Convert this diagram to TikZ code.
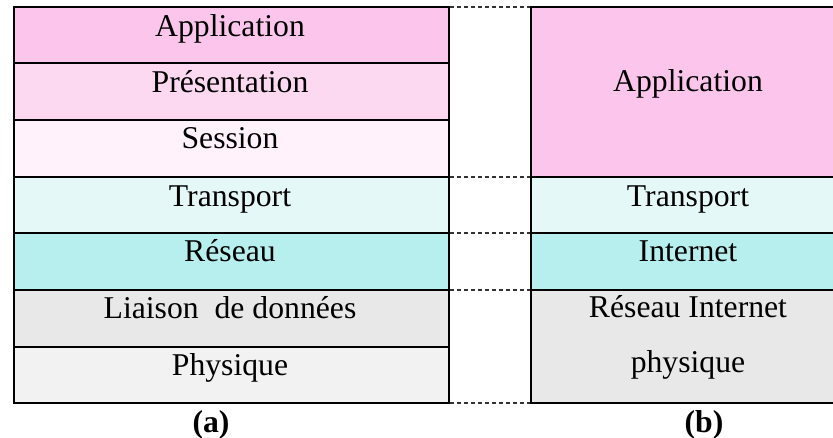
\documentclass[tikz,border=0pt]{standalone}
\usepackage{fontspec}
\setmainfont{Liberation Serif}
\definecolor{cApp}{HTML}{FCC5EC}
\definecolor{cPres}{HTML}{FDD8F1}
\definecolor{cSess}{HTML}{FFF2FA}
\definecolor{cTrans}{HTML}{E4F8F7}
\definecolor{cRes}{HTML}{B7EEEE}
\definecolor{cLiai}{HTML}{E8E8E8}
\definecolor{cPhys}{HTML}{F2F2F2}
\begin{document}
\begin{tikzpicture}[x=1pt,y=-1pt,
  lbl/.style={anchor=base, font=\fontsize{31.7}{38}\selectfont, inner sep=0pt},
  captext/.style={anchor=base, font=\fontsize{31.7}{38}\selectfont\bfseries, inner sep=0pt},
  border/.style={line width=2.2pt, draw=black},
  sepline/.style={dash pattern=on 4pt off 3pt, line width=1.8pt, draw=black!80}]
\useasboundingbox (0,0) rectangle (833,438);
\clip (0,0) rectangle (833,438);
% left stack fills
\fill[cApp]   (14,7)   rectangle (449,63);
\fill[cPres]  (14,63)  rectangle (449,120);
\fill[cSess]  (14,120) rectangle (449,177);
\fill[cTrans] (14,177) rectangle (449,233);
\fill[cRes]   (14,233) rectangle (449,290);
\fill[cLiai]  (14,290) rectangle (449,347);
\fill[cPhys]  (14,347) rectangle (449,403);
% right stack fills
\fill[cApp]   (531,7)   rectangle (845,177);
\fill[cTrans] (531,177) rectangle (845,233);
\fill[cRes]   (531,233) rectangle (845,290);
\fill[cLiai]  (531,290) rectangle (845,403);
% borders
\draw[border] (14,7) rectangle (449,403);
\foreach \yy in {63,120,177,233,290,347} \draw[border] (14,\yy) -- (449,\yy);
\draw[border] (531,7) rectangle (845,403);
\foreach \yy in {177,233,290} \draw[border] (531,\yy) -- (845,\yy);
% dashed separators
\foreach \yy in {7,177,233,290,403} {
  \coordinate (sl) at (450,\yy);
  \coordinate (sr) at (530,\yy);
  \draw[sepline] (sl) -- (sr);
}
% labels left
\node[lbl] (la) at (230,37)  {Application};
\node[lbl] (lp) at (230,93)  {Présentation};
\node[lbl] (ls) at (230,149) {Session};
\node[lbl] (lt) at (230,207) {Transport};
\node[lbl] (lr) at (230,262) {Réseau};
\node[lbl] (ll) at (230,319) {Liaison\ \ de données};
\node[lbl] (lh) at (230,375) {Physique};
% labels right
\node[lbl] (ra) at (688,92)  {Application};
\node[lbl] (rt) at (688,207) {Transport};
\node[lbl] (ri) at (688,262) {Internet};
\node[lbl] (rr) at (688,318) {Réseau Internet};
\node[lbl] (rp) at (688,373) {physique};
% captions
\node[captext] (ca) at (211,432) {(a)};
\node[captext] (cb) at (704,432) {(b)};
\end{tikzpicture}
\end{document}
